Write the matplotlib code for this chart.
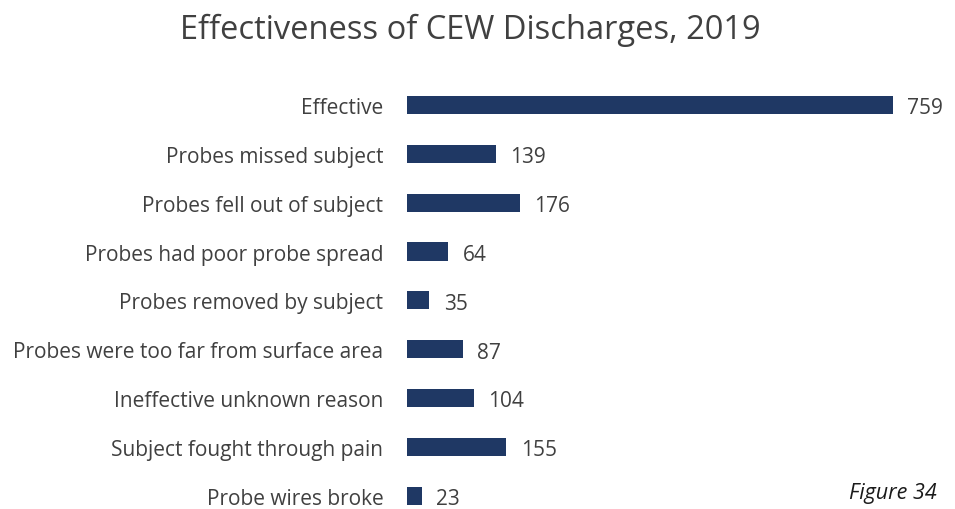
import matplotlib.pyplot as plt

plt.rcParams['font.family'] = ['Open Sans', 'DejaVu Sans']

# data
categories = ['Effective', 'Probes missed subject', 'Probes fell out of subject',
              'Probes had poor probe spread', 'Probes removed by subject',
              'Probes were too far from surface area', 'Ineffective unknown reason',
              'Subject fought through pain', 'Probe wires broke']
counts = [759, 139, 176, 64, 35, 87, 104, 155, 23]

bar_color = '#1F3864'
text_color = '#404040'

fig = plt.figure(figsize=(9.55, 5.1), dpi=100)
ax = fig.add_axes([407 / 955, 0.0, 512 / 955, 1 - 81.5 / 510])

ypos = list(range(len(categories)))
ax.barh(ypos, counts, height=0.37, color=bar_color)
ax.set_xlim(0, 800)
ax.set_ylim(8.27, -0.5)

ax.set_yticks(ypos)
ax.set_yticklabels(categories, fontsize=15, color=text_color)
ax.tick_params(axis='y', length=0, pad=17)
ax.set_xticks([])
for s in ax.spines.values():
    s.set_visible(False)

for y, v in zip(ypos, counts):
    ax.annotate(str(v), (v, y), xytext=(10.5, -2), textcoords='offset points',
                va='center', ha='left', fontsize=15, color=text_color)

fig.text(0.492, 0.94, 'Effectiveness of CEW Discharges, 2019', ha='center',
         va='center', fontsize=23.5, color=text_color)
fig.text(0.981, 0.033, 'Figure 34', ha='right', va='center', fontsize=15.5,
         style='italic', color='#1a1a1a')

fig.savefig('out.png', dpi=100)
